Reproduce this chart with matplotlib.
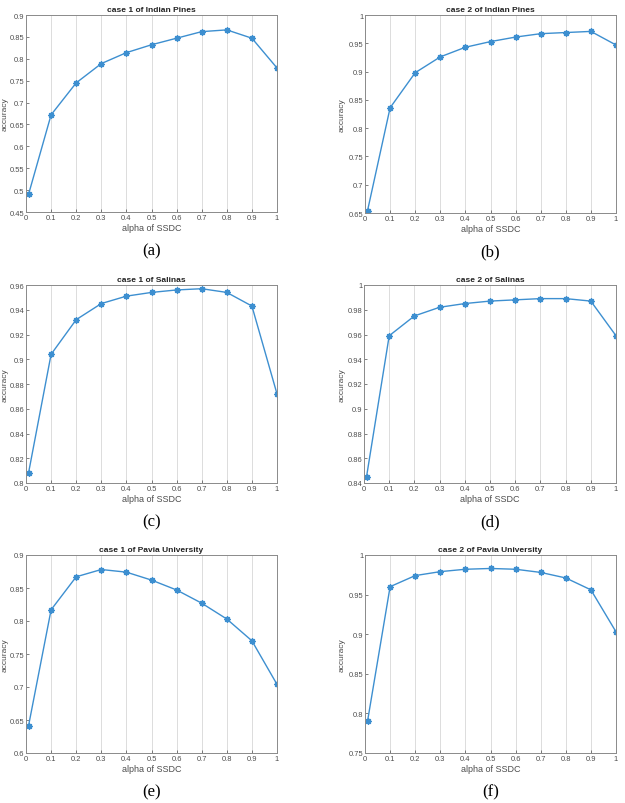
import numpy as np
import matplotlib.pyplot as plt

plt.rcParams['font.family'] = ['Liberation Sans', 'DejaVu Sans']

alpha = [0.01, 0.1, 0.2, 0.3, 0.4, 0.5, 0.6, 0.7, 0.8, 0.9, 1.0]

# accuracy vs alpha
ip_case1 = [0.490, 0.672, 0.745, 0.789, 0.814, 0.832, 0.847, 0.862, 0.866, 0.847, 0.779]
ip_case2 = [0.654, 0.836, 0.898, 0.926, 0.943, 0.953, 0.961, 0.967, 0.969, 0.971, 0.947]
sa_case1 = [0.808, 0.904, 0.932, 0.945, 0.951, 0.954, 0.956, 0.957, 0.954, 0.943, 0.872]
sa_case2 = [0.845, 0.959, 0.975, 0.982, 0.985, 0.987, 0.988, 0.989, 0.989, 0.987, 0.959]
pu_case1 = [0.641, 0.817, 0.867, 0.878, 0.874, 0.862, 0.847, 0.827, 0.803, 0.770, 0.704]
pu_case2 = [0.790, 0.960, 0.974, 0.979, 0.982, 0.983, 0.982, 0.978, 0.971, 0.956, 0.903]

titles = ['case 1 of Indian Pines', 'case 2 of Indian Pines',
          'case 1 of Salinas', 'case 2 of Salinas',
          'case 1 of Pavia University', 'case 2 of Pavia University']
captions = ['(a)', '(b)', '(c)', '(d)', '(e)', '(f)']
series = [ip_case1, ip_case2, sa_case1, sa_case2, pu_case1, pu_case2]
ylims = [(0.45, 0.9), (0.65, 1.0), (0.8, 0.96), (0.84, 1.0), (0.6, 0.9), (0.75, 1.0)]
ysteps = [0.05, 0.05, 0.02, 0.02, 0.05, 0.05]

W, H = 625, 804
fig = plt.figure(figsize=(W / 100, H / 100), dpi=100)

# axes boxes in pixels: left, top, right, bottom
boxes = [(26, 16, 277, 213), (365, 16, 616, 214),
         (26, 286, 277, 484), (364, 286, 616, 484),
         (26, 556, 277, 754), (365, 556, 616, 754)]

line_col = '#3d8fd0'
gray = '#4d4d4d'

for i in range(6):
    l, t, r, b = boxes[i]
    ax = fig.add_axes([l / W, 1 - b / H, (r - l) / W, (b - t) / H])
    ax.plot(alpha, series[i], color=line_col, lw=1.0, marker=(8, 2, 0), ms=4.5,
            mew=1.0, mfc=line_col, mec=line_col)
    ax.set_xlim(0, 1)
    ax.set_ylim(*ylims[i])
    ax.set_xticks(np.arange(0, 1.01, 0.1))
    ax.set_xticklabels(['0', '0.1', '0.2', '0.3', '0.4', '0.5', '0.6', '0.7', '0.8', '0.9', '1'])
    y0, y1 = ylims[i]
    yt = np.arange(y0, y1 + 1e-9, ysteps[i])
    ax.set_yticks(yt)
    ax.set_yticklabels(['%g' % round(v, 2) for v in yt])
    ax.grid(axis='x', color='#dcdcdc', lw=0.7)
    ax.set_axisbelow(True)
    for sp in ax.spines.values():
        sp.set_color('#8a8a8a')
        sp.set_linewidth(0.7)
    ax.tick_params(labelsize=5.4, colors=gray, length=2, width=0.5, pad=1.2,
                   direction='in')
    ax.set_title(titles[i], fontsize=6, fontweight='bold', color='#222222', pad=3)
    ax.set_xlabel('alpha of SSDC', fontsize=6.5, color=gray, labelpad=2)
    ax.set_ylabel('accuracy', fontsize=6, color=gray, va='center')
    # y label centre in pixels; left column sits right at the page edge
    lx = 4.9 if l < 100 else 342
    ax.yaxis.set_label_coords((lx - l) / (r - l), 0.5)
    cx = (l + r) / 2
    fig.text(cx / W, 1 - (b + 38) / H, captions[i], ha='center', va='center',
             fontsize=12, family='Liberation Serif')

fig.savefig('out.png', dpi=100)
